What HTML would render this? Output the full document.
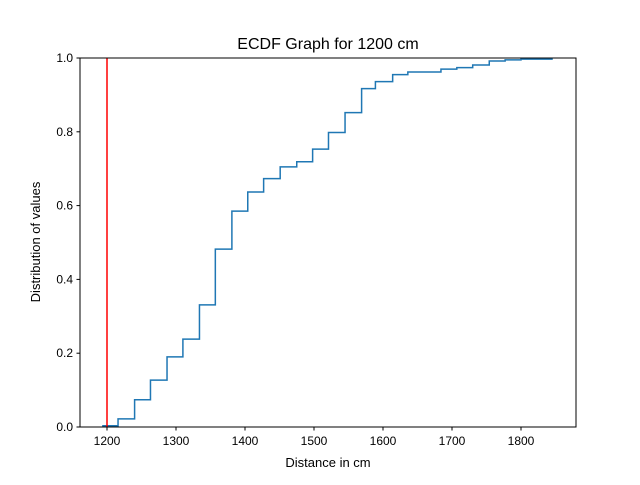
<!DOCTYPE html>
<html><head><meta charset="utf-8"><style>body{margin:0;background:#fff}svg{font-family:"Liberation Sans","DejaVu Sans",sans-serif}</style></head>
<body>
<svg id="chart" width="640" height="480" viewBox="0 0 640 480">
<rect width="640" height="480" fill="#fff"/>
<text x="328" y="49" font-size="16" text-anchor="middle">ECDF Graph for 1200 cm</text>
<g id="plot"></g>
<rect x="80" y="58" width="496" height="369" fill="none" stroke="#000" stroke-width="1"/>
<text x="328" y="467" font-size="13" text-anchor="middle">Distance in cm</text>
<text transform="translate(40,242) rotate(-90)" font-size="13" text-anchor="middle">Distribution of values</text>
</svg>
<script>
const xValues = [1193,1216,1240,1263,1287,1310,1334,1357,1381,1404,1427,1451,1475,1498,1521,1545,1569,1589,1614,1636,1684,1707,1730,1754,1777,1800,1846];
const yValues = [0.0035,0.022,0.074,0.127,0.19,0.238,0.331,0.482,0.585,0.637,0.673,0.705,0.719,0.753,0.798,0.852,0.917,0.936,0.955,0.962,0.970,0.974,0.981,0.992,0.995,0.997,0.997];
const xTicks = [1200,1300,1400,1500,1600,1700,1800];
const yTicks = [0,0.2,0.4,0.6,0.8,1.0];
const yTickLabels = ["0.0","0.2","0.4","0.6","0.8","1.0"];
const threshold = 1200;

const NS = "http://www.w3.org/2000/svg";
const X = v => 107 + (v - 1200) * 0.69;
const Y = v => 427 - v * 369;
const g = document.getElementById('plot');
function mk(tag, attrs){const e=document.createElementNS(NS,tag);for(const k in attrs)e.setAttribute(k,attrs[k]);g.appendChild(e);return e;}

let d = '';
for (let i = 0; i < xValues.length; i++) {
  if (i === 0) d += 'M' + X(xValues[0]) + ',' + Y(yValues[0]);
  else d += 'H' + X(xValues[i]) + 'V' + Y(yValues[i]);
}
const line = mk('path', {d: d, fill: 'none', stroke: '#1f77b4', 'stroke-width': 1.5});



const red = mk('line', {x1: X(threshold), x2: X(threshold), y1: Y(0), y2: Y(1), stroke: '#ff0000', 'stroke-width': 1.5});



xTicks.forEach(t => {
  const tk = mk('line', {x1: X(t), x2: X(t), y1: 427, y2: 430.5, stroke: '#000'});
  
  
  const tx = mk('text', {x: X(t), y: 445, 'font-size': 12, 'text-anchor': 'middle'});
  tx.textContent = t;
  
  
});
yTicks.forEach((t, i) => {
  const tk = mk('line', {x1: 76.5, x2: 80, y1: Y(t), y2: Y(t), stroke: '#000'});
  
  
  const tx = mk('text', {x: 73, y: Y(t) + 4, 'font-size': 12, 'text-anchor': 'end'});
  tx.textContent = yTickLabels[i];
  
  
});
</script>
</body></html>
